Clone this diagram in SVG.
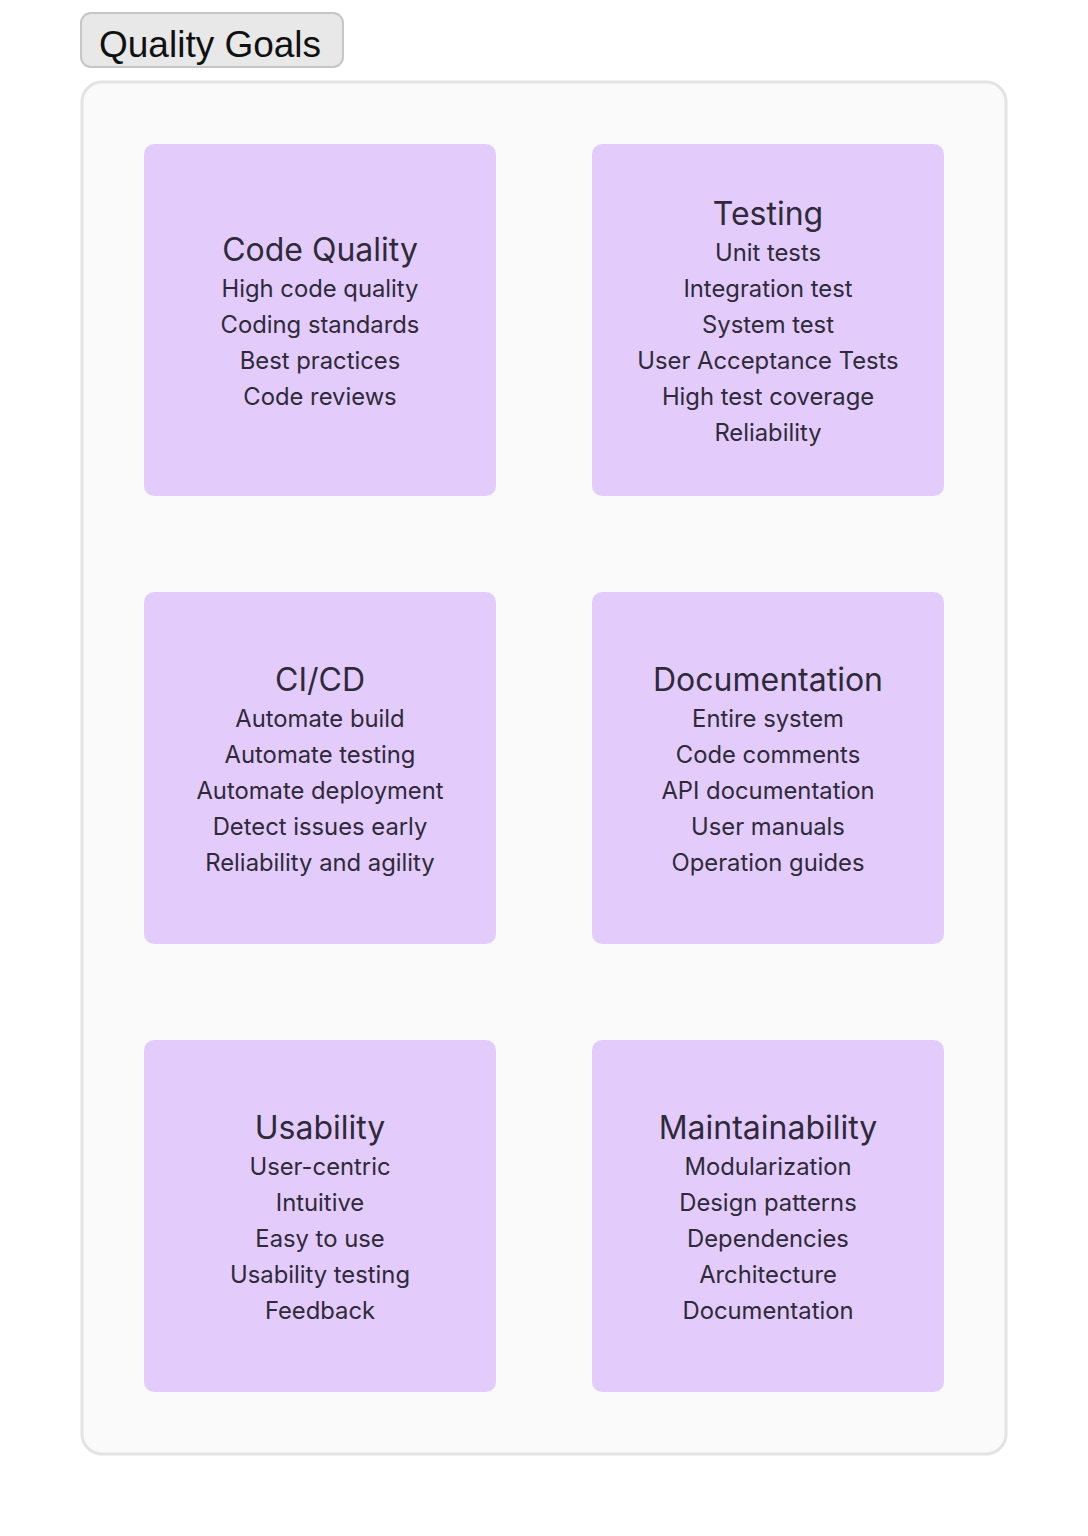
<svg xmlns="http://www.w3.org/2000/svg" width="1088" height="1536" viewBox="0 0 1088 1536">
  <style>
    .card { fill: #e3ccfc; }
    .head { font-family: Inter, "Noto Sans", sans-serif; font-size: 32px; fill: #2f2a3a; text-anchor: middle; }
    .item { font-family: Inter, "Noto Sans", sans-serif; font-size: 23.8px; fill: #2f2a3a; text-anchor: middle; }
  </style>
  <rect width="1088" height="1536" fill="#ffffff"/>

  <!-- group frame -->
  <g id="frame">
    <rect x="82" y="82" width="924" height="1372" rx="20" fill="#fafafa" stroke="#e3e3e3" stroke-width="3"/>
  </g>

  <!-- frame label -->
  <g id="label">
    <rect x="81" y="13" width="262" height="54" rx="10" fill="#e8e8e8" stroke="#c6c6c6" stroke-width="2"/>
    <text x="99" y="57" font-family="'Liberation Sans', Arial, sans-serif" font-size="37" fill="#111111">Quality Goals</text>
  </g>

  <g id="code-quality">
    <rect class="card" x="144" y="144" width="352" height="352" rx="10"/>
    <text class="head" x="320" y="261">Code Quality</text>
    <text class="item" x="320" y="297">High code quality</text>
    <text class="item" x="320" y="333">Coding standards</text>
    <text class="item" x="320" y="369">Best practices</text>
    <text class="item" x="320" y="405">Code reviews</text>
  </g>

  <g id="testing">
    <rect class="card" x="592" y="144" width="352" height="352" rx="10"/>
    <text class="head" x="768" y="225">Testing</text>
    <text class="item" x="768" y="261">Unit tests</text>
    <text class="item" x="768" y="297">Integration test</text>
    <text class="item" x="768" y="333">System test</text>
    <text class="item" x="768" y="369">User Acceptance Tests</text>
    <text class="item" x="768" y="405">High test coverage</text>
    <text class="item" x="768" y="441">Reliability</text>
  </g>

  <g id="cicd">
    <rect class="card" x="144" y="592" width="352" height="352" rx="10"/>
    <text class="head" x="320" y="691">CI/CD</text>
    <text class="item" x="320" y="727">Automate build</text>
    <text class="item" x="320" y="763">Automate testing</text>
    <text class="item" x="320" y="799">Automate deployment</text>
    <text class="item" x="320" y="835">Detect issues early</text>
    <text class="item" x="320" y="871">Reliability and agility</text>
  </g>

  <g id="documentation">
    <rect class="card" x="592" y="592" width="352" height="352" rx="10"/>
    <text class="head" x="768" y="691">Documentation</text>
    <text class="item" x="768" y="727">Entire system</text>
    <text class="item" x="768" y="763">Code comments</text>
    <text class="item" x="768" y="799">API documentation</text>
    <text class="item" x="768" y="835">User manuals</text>
    <text class="item" x="768" y="871">Operation guides</text>
  </g>

  <g id="usability">
    <rect class="card" x="144" y="1040" width="352" height="352" rx="10"/>
    <text class="head" x="320" y="1139">Usability</text>
    <text class="item" x="320" y="1175">User-centric</text>
    <text class="item" x="320" y="1211">Intuitive</text>
    <text class="item" x="320" y="1247">Easy to use</text>
    <text class="item" x="320" y="1283">Usability testing</text>
    <text class="item" x="320" y="1319">Feedback</text>
  </g>

  <g id="maintainability">
    <rect class="card" x="592" y="1040" width="352" height="352" rx="10"/>
    <text class="head" x="768" y="1139">Maintainability</text>
    <text class="item" x="768" y="1175">Modularization</text>
    <text class="item" x="768" y="1211">Design patterns</text>
    <text class="item" x="768" y="1247">Dependencies</text>
    <text class="item" x="768" y="1283">Architecture</text>
    <text class="item" x="768" y="1319">Documentation</text>
  </g>

  <!-- no connectors between the cards -->
  <g id="connectors"></g>
</svg>
